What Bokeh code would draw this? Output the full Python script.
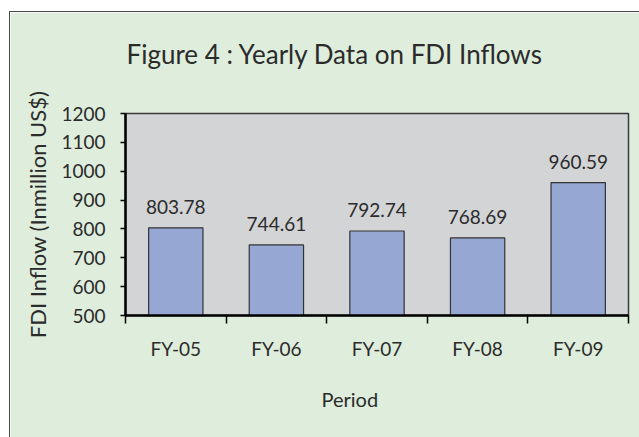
from bokeh.plotting import figure
from bokeh.models import ColumnDataSource, FixedTicker, Range1d, LabelSet, Title, Spacer
from bokeh.layouts import column, row
from bokeh.core.properties import value
from bokeh.embed import file_html
from bokeh.resources import INLINE

periods = ["FY-05", "FY-06", "FY-07", "FY-08", "FY-09"]
inflows = [803.78, 744.61, 792.74, 768.69, 960.59]
y_ticks = [500, 600, 700, 800, 900, 1000, 1100, 1200]
y_start, y_end = 500, 1200

FONT = "Lato"
TXT = "#2b2b2b"
BG = "#dfeedc"

xs = [i + 0.5 for i in range(len(periods))]
src = ColumnDataSource(dict(x=xs, top=inflows,
                            bottom=[y_start] * len(inflows),
                            lbl=[f"{v:.2f}" for v in inflows]))

p = figure(width=630, height=426, output_backend="svg", toolbar_location=None,
           x_range=Range1d(0, len(periods)), y_range=Range1d(y_start, y_end),
           min_border_left=115, min_border_right=12, min_border_top=101,
           min_border_bottom=123)
p.background_fill_color = "#d3d4d6"
p.border_fill_color = BG
p.outline_line_color = "#3a3a3a"
p.outline_line_width = 1.5
p.grid.visible = False

p.vbar(x="x", top="top", bottom="bottom", width=0.54, source=src,
       fill_color="#97a7d4", line_color="#333333", line_width=1.2)

labels = LabelSet(x="x", y="top", text="lbl", source=src, text_align="center",
                  text_baseline="alphabetic", y_offset=14,
                  text_font=value(FONT), text_font_size="19px", text_color=TXT)
p.add_layout(labels)

# x axis
xa = p.xaxis[0]
xa.ticker = FixedTicker(ticks=xs, minor_ticks=list(range(len(periods) + 1)))
xa.major_label_overrides = {x: lab for x, lab in zip(xs, periods)}
xa.major_tick_line_color = None
xa.minor_tick_line_color = "black"
xa.minor_tick_line_width = 1.5
xa.minor_tick_out = 8
xa.minor_tick_in = 0
xa.axis_line_color = "black"
xa.axis_line_width = 2.5
xa.major_label_standoff = 13
xa.major_label_text_font = FONT
xa.major_label_text_font_size = "19px"
xa.major_label_text_color = TXT

# y axis
ya = p.yaxis[0]
ya.ticker = FixedTicker(ticks=y_ticks)
ya.minor_tick_line_color = None
ya.major_tick_line_color = "black"
ya.major_tick_line_width = 1.5
ya.major_tick_out = 5
ya.major_tick_in = 0
ya.axis_line_color = "black"
ya.axis_line_width = 2.5
ya.major_label_standoff = 15
ya.major_label_text_font = FONT
ya.major_label_text_font_size = "19px"
ya.major_label_text_color = TXT
ya.axis_label = "FDI Inflow (Inmillion US$)"
ya.axis_label_standoff = 7
ya.axis_label_text_font = FONT
ya.axis_label_text_font_size = "22px"
ya.axis_label_text_font_style = "normal"
ya.axis_label_text_color = TXT

# spacer panel between the frame and the chart title
p.add_layout(Title(text=" ", text_font_size="2px", standoff=14,
                   text_color=BG), "above")
# chart title
p.add_layout(Title(text="Figure 4 : Yearly Data on FDI Inflows", align="left",
                   offset=1, vertical_align="top", standoff=48,
                   text_font=FONT, text_font_size="26px",
                   text_font_style="normal", text_color=TXT), "above")

# x-axis title, placed as a title below the axis
p.add_layout(Title(text="Period", align="left", offset=196,
                   vertical_align="middle", standoff=47,
                   text_font=FONT, text_font_size="20px",
                   text_font_style="normal", text_color=TXT), "below")

p.styles = {"border-left": "1px solid #4a4a4a", "border-top": "1px solid #4a4a4a"}

layout = column(Spacer(height=11), row(Spacer(width=9), p))
open("out.html", "w").write(file_html(layout, INLINE))
